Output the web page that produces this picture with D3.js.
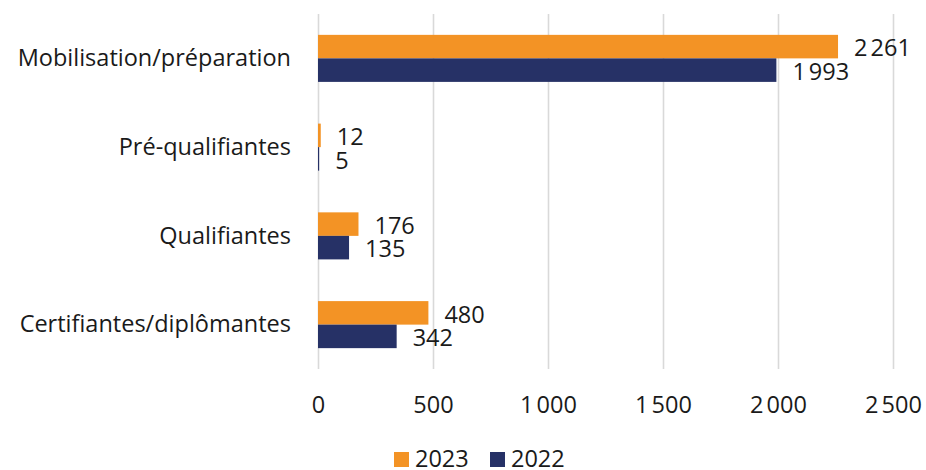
<!DOCTYPE html>
<html>
<head>
<meta charset="utf-8">
<script src="https://cdn.jsdelivr.net/npm/d3@7"></script>
<style>
  body { margin: 0; background: #fff; }
  svg { font-family: "Open Sans", "Noto Sans", sans-serif; }
</style>
</head>
<body>
<main></main>
<script>
// data
const categories = ['Mobilisation/préparation', 'Pré-qualifiantes', 'Qualifiantes', 'Certifiantes/diplômantes'];
const seriesNames = ['2023', '2022'];
const values2023 = [2261, 12, 176, 480];
const values2022 = [1993, 5, 135, 342];
const xTicks = [0, 500, 1000, 1500, 2000, 2500];

const colors = { '2023': '#f39325', '2022': '#263166' };

// layout
const width = 926;
const height = 470;
const plotLeft = 318;
const plotRight = 893;
const plotTop = 14;
const plotBottom = 369;
const fontFamily = '"Open Sans", "Noto Sans", sans-serif';
const fontSize = 23.5;
const textColor = '#1a1a1a';

const fr = d3.formatLocale({ decimal: ',', thousands: '\u202f', grouping: [3], currency: ['', ' €'] });
const fmt = fr.format(',d');

const rows = categories.map((c, i) => ({ cat: c, '2023': values2023[i], '2022': values2022[i] }));

const svg = d3.select('main')
  .append('svg')
  .attr('width', width)
  .attr('height', height)
  .attr('font-family', fontFamily);

const xScale = d3.scaleLinear()
  .domain([0, 2500])
  .range([plotLeft, plotRight]);

const yScale = d3.scaleBand()
  .domain(categories)
  .range([plotTop, plotBottom])
  .paddingInner(0.47)
  .paddingOuter(0.235);

const seriesScale = d3.scaleBand()
  .domain(seriesNames)
  .range([0, yScale.bandwidth()]);

// x axis with gridlines
const xAxis = d3.axisBottom(xScale)
  .tickValues(xTicks)
  .tickFormat(fmt)
  .tickSize(-(plotBottom - plotTop))
  .tickPadding(27);

const xg = svg.append('g')
  .attr('transform', `translate(0, ${plotBottom})`)
  .call(xAxis)
  .attr('font-family', fontFamily)
  .attr('font-size', fontSize);

xg.select('.domain').remove();
xg.selectAll('line')
  .attr('stroke', '#d9d9d9')
  .attr('stroke-width', 1.6);
xg.selectAll('text')
  .attr('fill', textColor);

// category labels
const yAxis = d3.axisLeft(yScale)
  .tickSize(0)
  .tickPadding(plotLeft - 291);

const yg = svg.append('g')
  .attr('transform', `translate(${plotLeft}, 0)`)
  .call(yAxis)
  .attr('font-family', fontFamily)
  .attr('font-size', fontSize);

yg.select('.domain').remove();
yg.selectAll('text')
  .attr('fill', textColor)
  .attr('dy', '0.33em');

// bars
const groups = svg.selectAll('g.cat')
  .data(rows)
  .enter()
  .append('g')
  .attr('class', 'cat')
  .attr('transform', (d) => `translate(0, ${yScale(d.cat)})`);

groups.selectAll('rect')
  .data((d) => seriesNames.map((s) => ({ s, v: d[s] })))
  .enter()
  .append('rect')
  .attr('x', xScale(0))
  .attr('y', (d) => seriesScale(d.s))
  .attr('width', (d) => xScale(d.v) - xScale(0))
  .attr('height', seriesScale.bandwidth())
  .attr('fill', (d) => colors[d.s]);

groups.selectAll('text')
  .data((d) => seriesNames.map((s) => ({ s, v: d[s] })))
  .enter()
  .append('text')
  .text((d) => fmt(d.v))
  .attr('x', (d) => xScale(d.v) + 16)
  .attr('y', (d) => seriesScale(d.s) + seriesScale.bandwidth() / 2 + 1.5)
  .attr('dy', '0.35em')
  .attr('fill', textColor)
  .attr('font-size', fontSize);

// legend
const legendItems = [
  { name: '2023', x: 394 },
  { name: '2022', x: 490 }
];

const legend = svg.selectAll('g.legend')
  .data(legendItems)
  .enter()
  .append('g')
  .attr('class', 'legend')
  .attr('transform', (d) => `translate(${d.x}, 452)`);

legend.append('rect')
  .attr('width', 15)
  .attr('height', 15)
  .attr('fill', (d) => colors[d.name]);

legend.append('text')
  .text((d) => d.name)
  .attr('x', 21)
  .attr('y', 15)
  .attr('fill', textColor)
  .attr('font-size', fontSize);
</script>
</body>
</html>
